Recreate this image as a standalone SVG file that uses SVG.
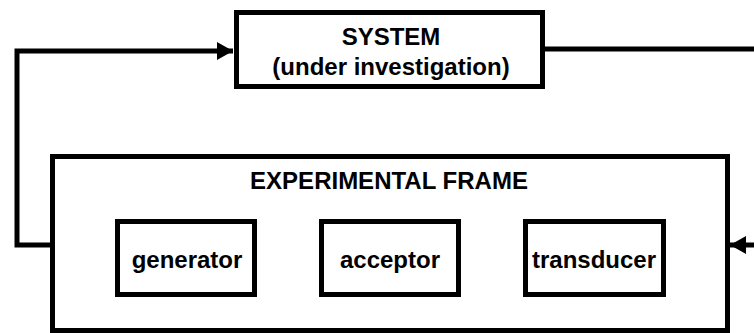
<svg xmlns="http://www.w3.org/2000/svg" width="754" height="333" viewBox="0 0 754 333">
<defs>
<style>
.box{fill:#fff;stroke:#000;stroke-width:5}
.t{font-family:"Liberation Sans",Arial,sans-serif;font-weight:bold;font-size:24px;fill:#000;text-anchor:middle}
.c{fill:none;stroke:#000;stroke-width:5}
</style>
<marker id="ah" markerUnits="userSpaceOnUse" markerWidth="16" markerHeight="18" viewBox="0 0 16 18" refX="16" refY="9" orient="auto">
<path d="M0,0 L16,9 L0,18 Z" fill="#000"/>
</marker>
</defs>
<g id="connectors">
<path class="c" d="M52,245 H17 V51 H233" marker-end="url(#ah)"/>
<path class="c" d="M543,49 H754"/>
<path class="c" d="M754,245 H730" marker-end="url(#ah)"/>
</g>
<g id="system">
<rect class="box" x="236.5" y="12.5" width="306" height="74"/>
<text class="t" x="391" y="45">SYSTEM</text>
<text class="t" x="391" y="75">(under investigation)</text>
</g>
<g id="frame">
<rect class="box" x="52.5" y="156.5" width="675" height="174"/>
<text class="t" x="389" y="189">EXPERIMENTAL FRAME</text>
</g>
<g id="generator">
<rect class="box" x="117.5" y="221.5" width="137" height="73"/>
<text class="t" x="187" y="268">generator</text>
</g>
<g id="acceptor">
<rect class="box" x="321.5" y="221.5" width="137" height="73"/>
<text class="t" x="390" y="268">acceptor</text>
</g>
<g id="transducer">
<rect class="box" x="525.5" y="221.5" width="138" height="73"/>
<text class="t" x="594" y="268">transducer</text>
</g>
</svg>
